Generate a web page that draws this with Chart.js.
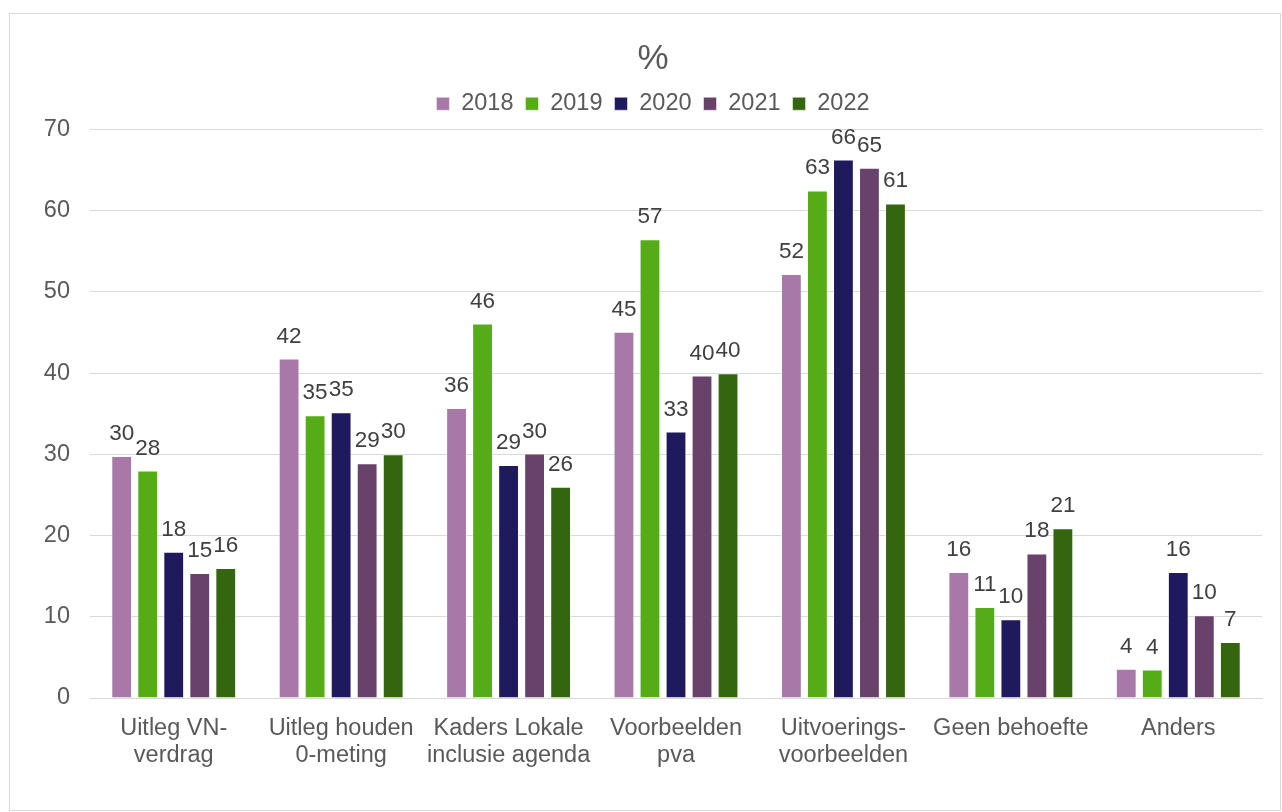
<!DOCTYPE html>
<html>
<head>
<meta charset="utf-8">
<script src="https://cdn.jsdelivr.net/npm/chart.js@4/dist/chart.umd.min.js"></script>
<style>
  body { margin: 0; background: #fff; }
  #wrap { position: absolute; left: 9px; top: 13px; width: 1272px; height: 798px; border: 1px solid #d9d9d9; box-sizing: border-box; }
  #wrap canvas { display: block; }
</style>
</head>
<body>
<div id="wrap"><canvas id="chart" width="1270" height="796"></canvas></div>
<script>
var categories = [
    ['Uitleg VN-', 'verdrag'],
    ['Uitleg houden', '0-meting'],
    ['Kaders Lokale', 'inclusie agenda'],
    ['Voorbeelden', 'pva'],
    ['Uitvoerings-', 'voorbeelden'],
    'Geen behoefte',
    'Anders'
];
var years = ['2018', '2019', '2020', '2021', '2022'];
var v2018 = [29.8, 41.8, 35.7, 45.1, 52.2, 15.5, 3.6];
var v2019 = [28.0, 34.8, 46.1, 56.5, 62.5, 11.2, 3.5];
var v2020 = [18.0, 35.2, 28.7, 32.8, 66.3, 9.7, 15.5];
var v2021 = [15.4, 28.9, 30.1, 39.7, 65.3, 17.8, 10.2];
var v2022 = [16.0, 30.0, 26.0, 40.0, 60.9, 20.9, 6.9];
var colors = ['#a878a8', '#56ac16', '#1f195e', '#68426a', '#33660e'];
var yTicks = [0, 10, 20, 30, 40, 50, 60, 70];

var font = 'Liberation Sans';

// draws the rounded value above each bar
var valueLabels = {
    id: 'valueLabels',
    afterDatasetsDraw: function (chart) {
        var ctx = chart.ctx;
        ctx.save();
        ctx.font = '22.5px "' + font + '"';
        ctx.fillStyle = '#404040';
        ctx.textAlign = 'center';
        ctx.textBaseline = 'alphabetic';
        chart.data.datasets.forEach(function (ds, i) {
            chart.getDatasetMeta(i).data.forEach(function (bar, j) {
                ctx.fillText(Math.round(ds.data[j]), bar.x, bar.y - 16);
            });
        });
        ctx.restore();
    }
};

var series = [v2018, v2019, v2020, v2021, v2022];
var datasets = years.map(function (y, i) {
    return {
        label: y,
        data: series[i],
        backgroundColor: colors[i],
        borderColor: 'rgba(255,255,255,0.5)',
        borderWidth: 1,
        barPercentage: 0.8,
        categoryPercentage: 0.777
    };
});

var ctx = document.getElementById('chart');
new Chart(ctx, {
    type: 'bar',
    data: { labels: categories, datasets: datasets },
    plugins: [valueLabels],
    options: {
        responsive: false,
        animation: false,
        layout: { padding: { left: 34, right: 18, top: 0, bottom: 0 } },
        plugins: {
            title: {
                display: true,
                text: '%',
                color: '#595959',
                font: { family: font, size: 35, weight: 'normal', lineHeight: 1.2 },
                padding: { top: 24, bottom: 0 }
            },
            // empty spacer between legend and plot
            subtitle: {
                display: true,
                text: '',
                weight: 500,
                font: { size: 1, lineHeight: 1 },
                padding: { top: 3, bottom: 0 }
            },
            legend: {
                position: 'top',
                labels: {
                    color: '#595959',
                    font: { family: font, size: 23.5 },
                    boxWidth: 13,
                    boxHeight: 13,
                    padding: 12
                }
            },
            tooltip: { enabled: false }
        },
        scales: {
            x: {
                grid: { display: false, drawTicks: false },
                border: { color: '#d9d9d9', width: 1 },
                ticks: {
                    color: '#595959',
                    font: { family: font, size: 23.5, lineHeight: 1.15 },
                    maxRotation: 0,
                    autoSkip: false,
                    padding: 17
                },
                afterFit: function (scale) { scale.height = 112; }
            },
            y: {
                min: 0,
                max: 70,
                afterBuildTicks: function (scale) {
                    scale.ticks = yTicks.map(function (v) { return { value: v }; });
                },
                grid: { color: '#d9d9d9', lineWidth: 1, drawTicks: false },
                border: { display: false },
                ticks: {
                    color: '#595959',
                    font: { family: font, size: 23.5 },
                    padding: 20
                },
                afterFit: function (scale) { scale.width = 46; }
            }
        }
    }
});
</script>
</body>
</html>
